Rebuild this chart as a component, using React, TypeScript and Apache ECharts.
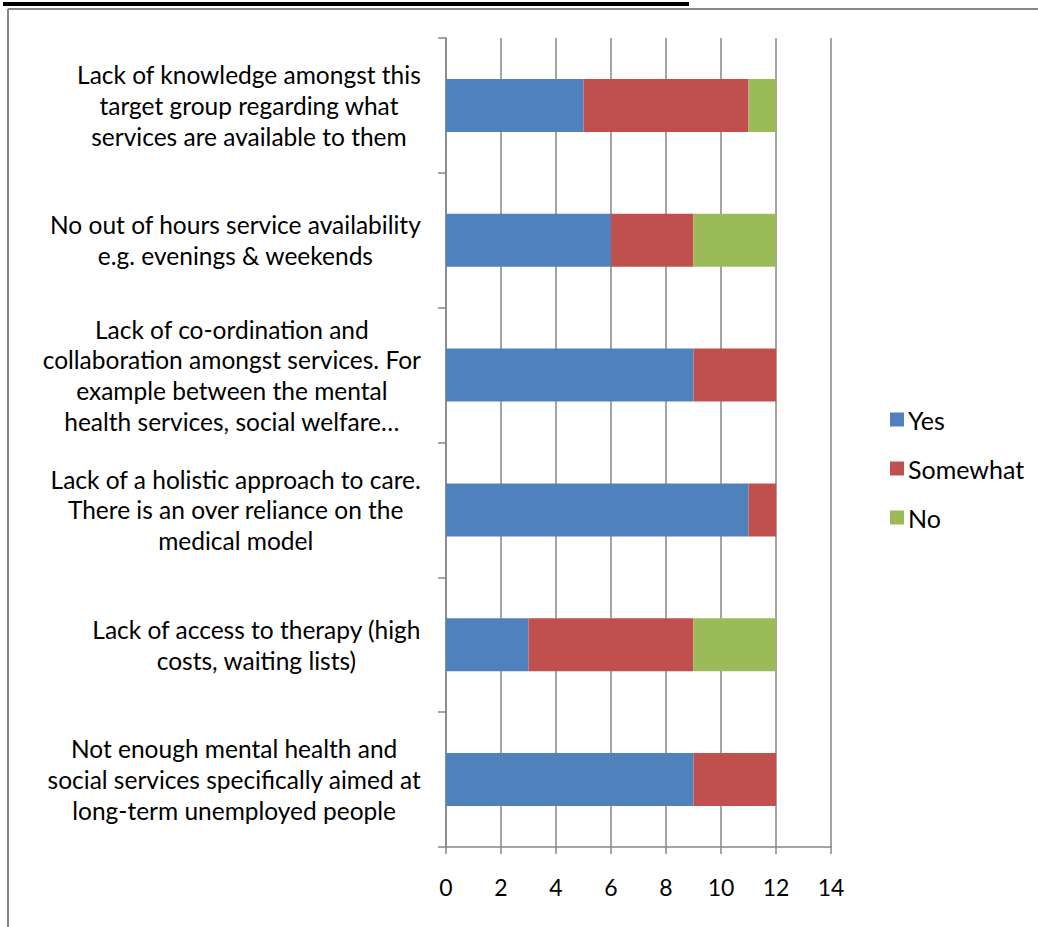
import React, { useEffect, useRef } from "react";
import * as echarts from "echarts";

const categories = [
  "Not enough mental health and\nsocial services specifically aimed at\nlong-term unemployed people",
  "Lack of access to therapy (high\ncosts, waiting lists)",
  "Lack of a holistic approach to care.\nThere is an over reliance on the\nmedical model",
  "Lack of co-ordination and\ncollaboration amongst services. For\nexample between the mental\nhealth services, social welfare…",
  "No out of hours service availability\ne.g. evenings & weekends",
  "Lack of knowledge amongst this\ntarget group regarding what\nservices are available to them",
];
const yesValues = [9, 3, 11, 9, 6, 5];
const somewhatValues = [3, 6, 1, 3, 3, 6];
const noValues = [0, 3, 0, 0, 3, 1];
const seriesNames = ["Yes", "Somewhat", "No"];
const colors = ["#4F81BD", "#C0504D", "#9BBB59"];

const FONT = "Lato, 'Open Sans', sans-serif";

export default function App() {
  const ref = useRef<HTMLDivElement>(null);
  useEffect(() => {
    document.body.style.margin = "0";
    const chart = echarts.init(ref.current!, null, { renderer: "svg" });
    const gray = "#868686";
    chart.setOption({
      animation: false,
      backgroundColor: "#ffffff",
      textStyle: { fontFamily: FONT },
      grid: { left: 446, right: 207, top: 38, bottom: 80, containLabel: false },
      legend: {
        orient: "vertical",
        left: 890,
        top: 407,
        padding: 0,
        itemWidth: 14,
        itemHeight: 14,
        itemGap: 24,
        icon: "rect",
        data: seriesNames,
        textStyle: { fontSize: 25, color: "#000", fontFamily: FONT, padding: [0, 0, 0, -1] },
      },
      xAxis: {
        type: "value",
        min: 0,
        max: 14,
        interval: 2,
        axisLine: { show: true, lineStyle: { color: gray, width: 1.5 } },
        axisTick: { show: true, length: 7, lineStyle: { color: gray, width: 1.5 } },
        splitLine: { show: true, lineStyle: { color: gray, width: 1.5 } },
        axisLabel: { color: "#000", fontSize: 23, fontFamily: FONT, margin: 28 },
      },
      yAxis: {
        type: "category",
        data: categories,
        axisLine: { show: true, lineStyle: { color: gray, width: 1.5 } },
        axisTick: { show: true, length: 8, lineStyle: { color: gray, width: 1.5 } },
        axisLabel: {
          margin: 25,
          align: "right",
          formatter: (v: string) =>
            v
              .split("\n")
              .map((l) => `{c|${l}}`)
              .join("\n"),
          rich: {
            c: { align: "center", fontSize: 24.5, lineHeight: 30.7, color: "#000", fontFamily: FONT },
          },
        },
      },
      series: [yesValues, somewhatValues, noValues].map((d, i) => ({
        name: seriesNames[i],
        type: "bar",
        stack: "total",
        data: d,
        barWidth: 53,
        itemStyle: { color: colors[i] },
      })),
      graphic: [
        { type: "rect", shape: { x: 3, y: 2, width: 686, height: 4 }, style: { fill: "#000" } },
        { type: "line", shape: { x1: 8, y1: 9, x2: 1038, y2: 9 }, style: { stroke: gray, lineWidth: 2 } },
        { type: "line", shape: { x1: 8, y1: 9, x2: 8, y2: 927 }, style: { stroke: gray, lineWidth: 2 } },
      ],
    });
    return () => chart.dispose();
  }, []);
  return <div ref={ref} style={{ width: 1038, height: 927 }} />;
}
